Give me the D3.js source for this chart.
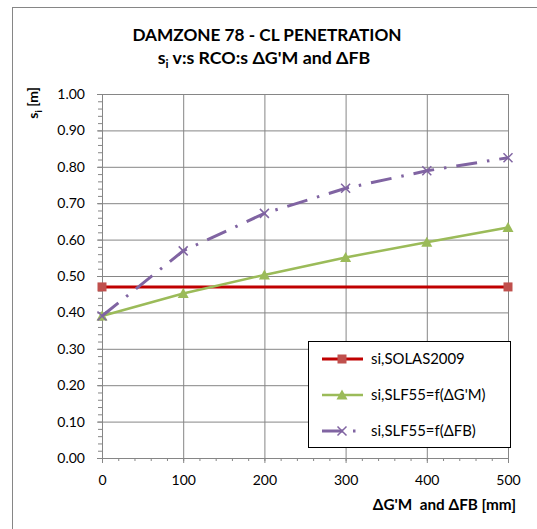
<!DOCTYPE html>
<html>
<head>
<meta charset="utf-8">
<script src="https://cdn.jsdelivr.net/npm/d3@7"></script>
<style>
  body { margin: 0; background: #fff; }
  svg { display: block; font-family: Lato, "Open Sans", sans-serif; }
  .axis path, .axis line { stroke: #868686; }
  .axis text { font-family: Lato, sans-serif; font-size: 14px; fill: #000; }
</style>
</head>
<body>
<div id="chart"></div>
<script>
// x values (mm)
var xVals = [0, 100, 200, 300, 400, 500];
var solasX = [0, 500];
var solasVals = [0.47, 0.47];
var slfGMVals = [0.39, 0.452, 0.503, 0.551, 0.593, 0.633];
var slfFBVals = [0.39, 0.569, 0.672, 0.741, 0.789, 0.825];
var seriesNames = ["si,SOLAS2009", "si,SLF55=f(\u0394G'M)", "si,SLF55=f(\u0394FB)"];
var xTicks = [0, 100, 200, 300, 400, 500];
var yTicks = [0, 0.1, 0.2, 0.3, 0.4, 0.5, 0.6, 0.7, 0.8, 0.9, 1.0];

var W = 537, H = 529;
var plot = {left: 102, right: 508, top: 94, bottom: 458};

var svg = d3.select("#chart").append("svg").attr("width", W).attr("height", H);

// outer frame
svg.append("rect").attr("x", 12.5).attr("y", 7.5).attr("width", 600).attr("height", 600)
   .attr("fill", "#fff").attr("stroke", "#868686").attr("stroke-width", 1);

var x = d3.scaleLinear().domain([0, 500]).range([plot.left, plot.right]);
var y = d3.scaleLinear().domain([0, 1]).range([plot.bottom, plot.top]);

// gridlines
svg.append("g").attr("class", "axis grid")
   .attr("transform", "translate(0," + plot.bottom + ")")
   .call(d3.axisBottom(x).tickValues(xTicks).tickSize(-(plot.bottom - plot.top)).tickFormat(""))
   .call(function(g){ g.select(".domain").remove(); });
svg.append("g").attr("class", "axis grid")
   .attr("transform", "translate(" + plot.left + ",0)")
   .call(d3.axisLeft(y).tickValues(yTicks).tickSize(-(plot.right - plot.left)).tickFormat(""))
   .call(function(g){ g.select(".domain").remove(); });

// minor ticks
svg.append("g").attr("class", "axis")
   .attr("transform", "translate(0," + plot.bottom + ")")
   .call(d3.axisBottom(x).tickValues(d3.range(0, 501, 20)).tickSize(3).tickFormat(""));
svg.append("g").attr("class", "axis")
   .attr("transform", "translate(" + plot.left + ",0)")
   .call(d3.axisLeft(y).tickValues(d3.range(0, 51).map(function(i){ return i / 50; })).tickSize(4).tickFormat(""));

// major axes
svg.append("g").attr("class", "axis")
   .attr("transform", "translate(0," + plot.bottom + ")")
   .call(d3.axisBottom(x).tickValues(xTicks).tickSize(5).tickPadding(15).tickSizeOuter(0))
   .call(function(g){ g.selectAll("text").attr("dy", "0.5em"); });
svg.append("g").attr("class", "axis")
   .attr("transform", "translate(" + plot.left + ",0)")
   .call(d3.axisLeft(y).tickValues(yTicks).tickSize(5).tickPadding(12).tickFormat(d3.format(".2f")).tickSizeOuter(0));

// series
var line = d3.line().x(function(d){ return x(d[0]); }).y(function(d){ return y(d[1]); });
var solasData = d3.zip(solasX, solasVals);
var gmData = d3.zip(xVals, slfGMVals);
var fbData = d3.zip(xVals, slfFBVals);

var colors = {red: "#C00000", redMark: "#C0504D", green: "#9BBB59", purple: "#8064A2"};

function drawSquare(g, cx, cy) {
  g.append("rect").attr("x", cx - 4.5).attr("y", cy - 4.5).attr("width", 9).attr("height", 9)
   .attr("fill", colors.redMark);
}
function drawTriangle(g, cx, cy) {
  g.append("path").attr("d", "M" + (cx - 5.5) + "," + (cy + 4.5) + "L" + (cx + 5.5) + "," + (cy + 4.5) + "L" + cx + "," + (cy - 5.5) + "Z")
   .attr("fill", colors.green);
}
function drawCross(g, cx, cy) {
  g.append("path").attr("d", "M" + (cx - 4.5) + "," + (cy - 4.5) + "L" + (cx + 4.5) + "," + (cy + 4.5) +
        "M" + (cx - 4.5) + "," + (cy + 4.5) + "L" + (cx + 4.5) + "," + (cy - 4.5))
   .attr("stroke", colors.purple).attr("stroke-width", 1.5).attr("fill", "none");
}

var series = svg.append("g");
series.append("path").datum(solasData).attr("d", line)
  .attr("fill", "none").attr("stroke", colors.red).attr("stroke-width", 3);
solasData.forEach(function(d){ drawSquare(series, x(d[0]), y(d[1])); });

series.append("path").datum(gmData).attr("d", line)
  .attr("fill", "none").attr("stroke", colors.green).attr("stroke-width", 2.5);
gmData.forEach(function(d){ drawTriangle(series, x(d[0]), y(d[1])); });

var dashFB = "21,10,2.5,10";
series.append("path").datum(fbData).attr("d", line)
  .attr("fill", "none").attr("stroke", colors.purple).attr("stroke-width", 3)
  .attr("stroke-dasharray", dashFB);
fbData.forEach(function(d){ drawCross(series, x(d[0]), y(d[1])); });

// legend
var leg = svg.append("g");
leg.append("rect").attr("x", 308.5).attr("y", 341.5).attr("width", 202).attr("height", 106)
   .attr("fill", "#fff").attr("stroke", "#000").attr("stroke-width", 1);
var rowsY = [359, 395, 431];
rowsY.forEach(function(ry, i){
  var ln = leg.append("line").attr("x1", 322).attr("x2", 363).attr("y1", ry).attr("y2", ry);
  if (i === 0) { ln.attr("stroke", colors.red).attr("stroke-width", 3); drawSquare(leg, 342, ry); }
  if (i === 1) { ln.attr("stroke", colors.green).attr("stroke-width", 2.5); drawTriangle(leg, 342, ry); }
  if (i === 2) { ln.attr("stroke", colors.purple).attr("stroke-width", 3).attr("stroke-dasharray", dashFB); drawCross(leg, 342, ry); }
  leg.append("text").attr("x", 371).attr("y", ry).attr("dy", "0.36em")
     .attr("font-size", 14.9).text(seriesNames[i]);
});

// titles
svg.append("text").attr("x", 267).attr("y", 40.5).attr("text-anchor", "middle")
   .attr("font-weight", "bold").attr("font-size", 17.2).text("DAMZONE 78 - CL PENETRATION");
var t2 = svg.append("text").attr("x", 264).attr("y", 63.5).attr("text-anchor", "middle")
   .attr("font-weight", "bold").attr("font-size", 17.8);
t2.append("tspan").text("s");
t2.append("tspan").attr("font-size", 12).attr("dy", 4).text("i");
t2.append("tspan").attr("dy", -4).text(" v:s RCO:s \u0394G'M and \u0394FB");

var yt = svg.append("text").attr("transform", "translate(38,87) rotate(-90)")
   .attr("text-anchor", "end").attr("font-weight", "bold").attr("font-size", 14);
yt.append("tspan").text("s");
yt.append("tspan").attr("font-size", 10).attr("dy", 4).text("i");
yt.append("tspan").attr("dy", -4).text(" [m]");

svg.append("text").attr("x", 516).attr("y", 510).attr("text-anchor", "end")
   .attr("font-weight", "bold").attr("font-size", 15.3).style("white-space", "pre")
   .text("\u0394G'M  and \u0394FB [mm]");
</script>
</body>
</html>
